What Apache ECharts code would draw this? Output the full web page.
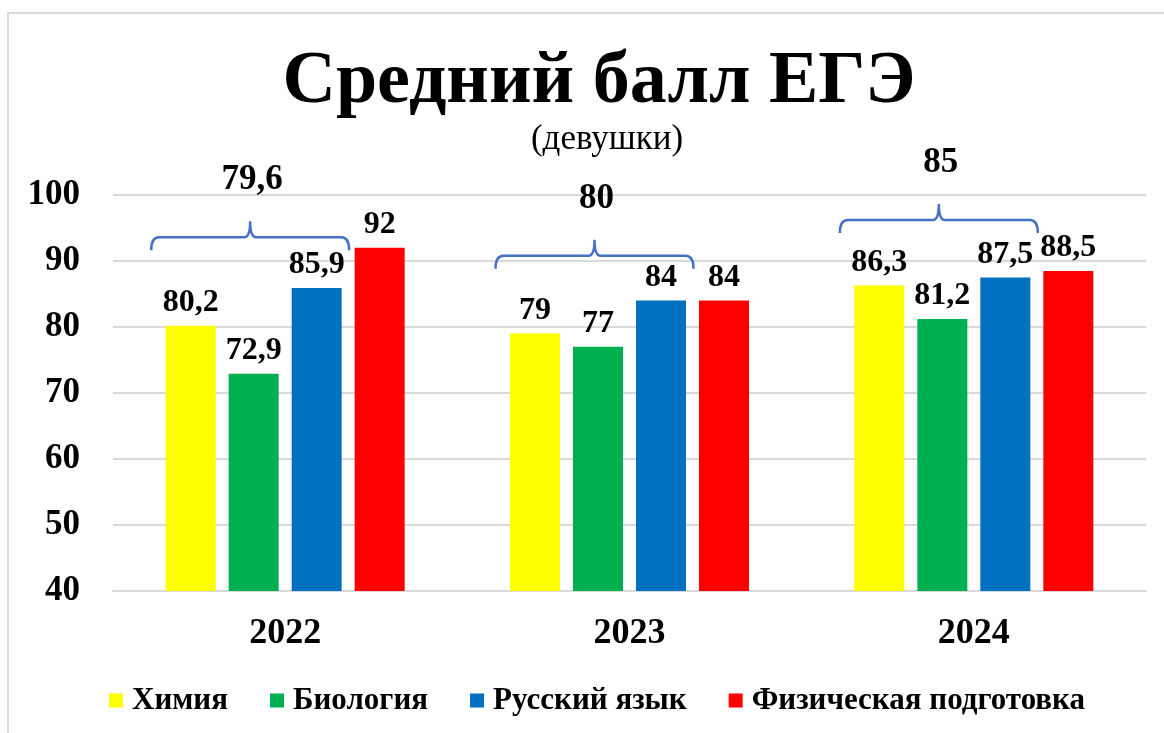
<!DOCTYPE html>
<html>
<head>
<meta charset="utf-8">
<script src="https://cdn.jsdelivr.net/npm/echarts@6/dist/echarts.min.js"></script>
<style>
  html, body { margin: 0; padding: 0; background: #fff; }
  #chart { width: 1164px; height: 733px; }
</style>
</head>
<body>
<div id="chart"></div>
<script>
const years = ['2022', '2023', '2024'];
const chemistry = [80.2, 79, 86.3];
const biology = [72.9, 77, 81.2];
const russian = [85.9, 84, 87.5];
const physical = [92, 84, 88.5];
const avgScores = [79.6, 80, 85];
const yTicks = [40, 50, 60, 70, 80, 90, 100];

// where the blue braces sit (axis units) - just layout
const BRACE_LEVEL = [93.6, 90.8, 96.2];
const SERIF = '"Liberation Serif", "Times New Roman", serif';
const BLUE_BRACE = '#4472C4';

const fmt = (v) => String(v).replace('.', ',');

const chart = echarts.init(document.getElementById('chart'));

const barLabel = {
  show: true,
  position: 'top',
  distance: 7,
  color: '#000',
  fontFamily: SERIF,
  fontWeight: 'bold',
  fontSize: 32,
  formatter: (p) => fmt(p.value)
};

const makeBar = (name, data, color) => ({
  name: name,
  type: 'bar',
  data: data,
  barWidth: 50,
  barGap: '26%',
  itemStyle: { color: color },
  label: barLabel
});

const option = {
  backgroundColor: '#fff',
  animation: false,
  title: [
    {
      text: 'Средний балл ЕГЭ',
      left: 594,
      top: 41,
      textAlign: 'center',
      textStyle: { fontFamily: SERIF, fontWeight: 'bold', fontSize: 74, lineHeight: 74, color: '#000' }
    },
    {
      text: '(девушки)',
      left: 602,
      top: 117,
      textAlign: 'center',
      textStyle: { fontFamily: SERIF, fontWeight: 'normal', fontSize: 35, lineHeight: 35, color: '#000' }
    }
  ],
  graphic: [
    {
      type: 'rect',
      shape: { x: 8, y: 13, width: 1200, height: 760 },
      style: { fill: 'none', stroke: '#d9d9d9', lineWidth: 2 },
      silent: true
    }
  ],
  legend: {
    top: 680,
    left: 104,
    itemWidth: 14,
    itemHeight: 14,
    itemGap: 42,
    icon: 'rect',
    data: ['Химия', 'Биология', 'Русский язык', 'Физическая подготовка'],
    textStyle: { fontFamily: SERIF, fontWeight: 'bold', fontSize: 31, color: '#000', padding: [0, 0, 0, 4] }
  },
  grid: { left: 113, right: 18, top: 195, bottom: 142 },
  xAxis: {
    type: 'category',
    data: years,
    axisTick: { show: false },
    axisLine: { show: true, lineStyle: { color: '#d9d9d9', width: 2 } },
    axisLabel: { margin: 25, color: '#000', fontFamily: SERIF, fontWeight: 'bold', fontSize: 36 }
  },
  yAxis: {
    type: 'value',
    min: yTicks[0],
    max: yTicks[yTicks.length - 1],
    interval: 10,
    axisLine: { show: false },
    axisTick: { show: false },
    splitLine: { lineStyle: { color: '#d9d9d9', width: 2 } },
    axisLabel: { margin: 33, color: '#000', fontFamily: SERIF, fontWeight: 'bold', fontSize: 35 }
  },
  series: [
    makeBar('Химия', chemistry, '#FFFF00'),
    makeBar('Биология', biology, '#00B050'),
    makeBar('Русский язык', russian, '#0070C0'),
    makeBar('Физическая подготовка', physical, '#FF0000'),
    {
      type: 'custom',
      name: 'avg',
      silent: true,
      data: avgScores.map((v, i) => [i, v]),
      encode: { x: 0, y: 1 },
      z: 5,
      renderItem: (params, api) => {
        const i = params.dataIndex;
        const cx = api.coord([i, 0])[0];
        const y = api.coord([i, BRACE_LEVEL[i]])[1];
        const l = cx - 134, r = cx + 64, c = cx - 35;
        const path =
          'M' + l + ' ' + (y + 13) +
          ' Q' + l + ' ' + y + ' ' + (l + 8) + ' ' + y +
          ' L' + (c - 6) + ' ' + y +
          ' Q' + c + ' ' + y + ' ' + c + ' ' + (y - 16) +
          ' Q' + c + ' ' + y + ' ' + (c + 6) + ' ' + y +
          ' L' + (r - 8) + ' ' + y +
          ' Q' + r + ' ' + y + ' ' + r + ' ' + (y + 13);
        return {
          type: 'group',
          children: [
            {
              type: 'path',
              shape: { pathData: path },
              style: { fill: 'none', stroke: BLUE_BRACE, lineWidth: 2.5 }
            },
            {
              type: 'text',
              style: {
                text: fmt(api.value(1)),
                x: c + 2,
                y: y - 57,
                align: 'center',
                verticalAlign: 'middle',
                fontFamily: SERIF,
                fontWeight: 'bold',
                fontSize: 35,
                fill: '#000'
              }
            }
          ]
        };
      }
    }
  ]
};

chart.setOption(option);
</script>
</body>
</html>
